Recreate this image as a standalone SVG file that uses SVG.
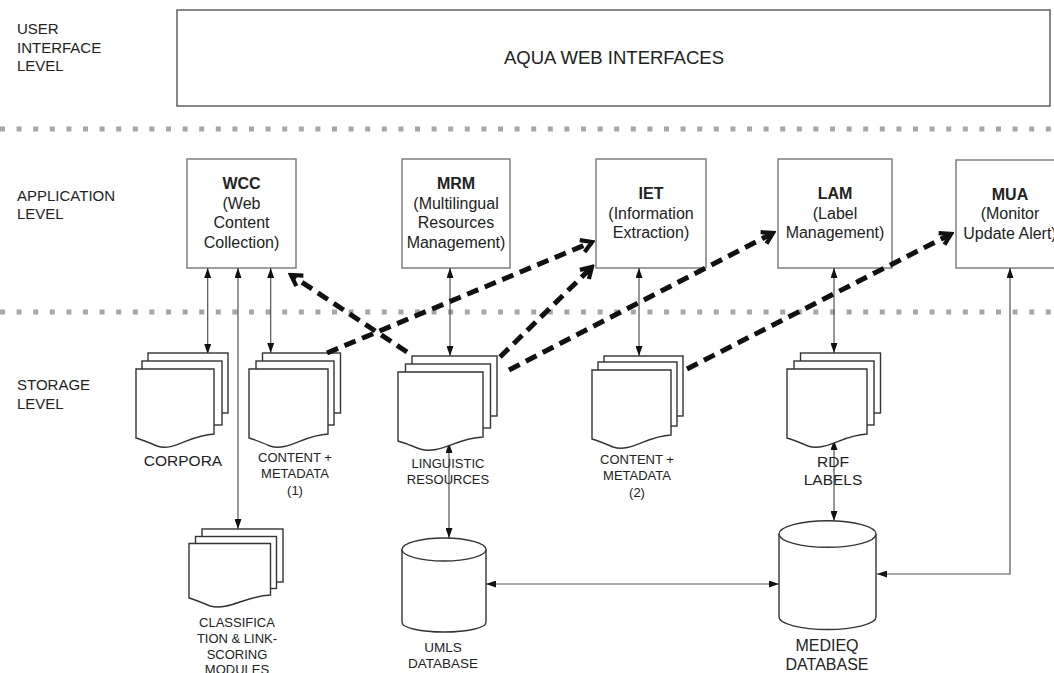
<svg xmlns="http://www.w3.org/2000/svg" width="1054" height="673" viewBox="0 0 1054 673">
<style>
text{font-family:"Liberation Sans",Arial,sans-serif;fill:#222;}
.lvl{font-size:15px;}
.nt{font-size:16px;text-anchor:middle;}
.b{font-weight:bold;}
.sm{font-size:13px;text-anchor:middle;}
.md{font-size:15.5px;text-anchor:middle;}
.box{fill:#fff;stroke:#777;stroke-width:1.4;}
.pg{fill:#fff;stroke:#333;stroke-width:1.4;}
.sep{stroke:#a6a6a6;stroke-width:5;stroke-dasharray:5 11.6;fill:none;}
.thin{stroke:#555;stroke-width:1.2;fill:none;}
.dash{stroke:#111;stroke-width:5;stroke-dasharray:12 7;fill:none;}
</style>
<defs>
<marker id="tri" viewBox="0 0 10 7" refX="10" refY="3.5" markerWidth="10" markerHeight="7" markerUnits="userSpaceOnUse" orient="auto-start-reverse">
<path d="M0,0 L10,3.5 L0,7 Z" fill="#111"/>
</marker>
<marker id="chev" viewBox="0 0 16 16" refX="13" refY="8" markerWidth="17" markerHeight="17" markerUnits="userSpaceOnUse" orient="auto">
<path d="M3,2 L13,8 L3,14" fill="none" stroke="#111" stroke-width="4" stroke-linejoin="miter"/>
</marker>
</defs>
<rect width="1054" height="673" fill="#fff"/>

<g id="levels">
<text class="lvl" x="17" y="34">USER</text>
<text class="lvl" x="17" y="52.5">INTERFACE</text>
<text class="lvl" x="17" y="71">LEVEL</text>
<text class="lvl" x="17" y="201">APPLICATION</text>
<text class="lvl" x="17" y="219">LEVEL</text>
<text class="lvl" x="17" y="390">STORAGE</text>
<text class="lvl" x="17" y="409">LEVEL</text>
</g>

<g id="separators">
<line class="sep" x1="0" y1="129" x2="1054" y2="129"/>
<line class="sep" x1="0" y1="312" x2="1054" y2="312"/>
</g>

<g id="aqua">
<rect x="177" y="10" width="873" height="96" fill="#fff" stroke="#555" stroke-width="1.4"/>
<text x="614" y="64" style="font-size:18.5px" text-anchor="middle">AQUA WEB INTERFACES</text>
</g>

<g id="wcc">
<rect class="box" x="187" y="159" width="109" height="109"/>
<text class="nt b" x="241.5" y="189">WCC</text>
<text class="nt" x="241.5" y="208.5">(Web</text>
<text class="nt" x="241.5" y="228">Content</text>
<text class="nt" x="241.5" y="247.5">Collection)</text>
</g>
<g id="mrm">
<rect class="box" x="402" y="159" width="108" height="109"/>
<text class="nt b" x="456" y="189">MRM</text>
<text class="nt" x="456" y="208.5">(Multilingual</text>
<text class="nt" x="456" y="228">Resources</text>
<text class="nt" x="456" y="247.5">Management)</text>
</g>
<g id="iet">
<rect class="box" x="596" y="159" width="110" height="109"/>
<text class="nt b" x="651" y="199">IET</text>
<text class="nt" x="651" y="218.5">(Information</text>
<text class="nt" x="651" y="238">Extraction)</text>
</g>
<g id="lam">
<rect class="box" x="778" y="159" width="114" height="109"/>
<text class="nt b" x="835" y="199">LAM</text>
<text class="nt" x="835" y="218.5">(Label</text>
<text class="nt" x="835" y="238">Management)</text>
</g>
<g id="mua">
<rect class="box" x="956" y="160" width="112" height="108"/>
<text class="nt b" x="1010" y="200">MUA</text>
<text class="nt" x="1010" y="219">(Monitor</text>
<text class="nt" x="1010" y="238.5">Update Alert)</text>
</g>

<g id="connectors">
<line class="thin" x1="207.7" y1="268" x2="207.7" y2="354" marker-start="url(#tri)" marker-end="url(#tri)"/>
<line class="thin" x1="238" y1="268" x2="238" y2="529" marker-start="url(#tri)" marker-end="url(#tri)"/>
<line class="thin" x1="270.7" y1="268" x2="270.7" y2="353" marker-start="url(#tri)" marker-end="url(#tri)"/>
<line class="thin" x1="450" y1="268" x2="450" y2="356" marker-start="url(#tri)" marker-end="url(#tri)"/>
<line class="thin" x1="639" y1="268" x2="639" y2="356" marker-start="url(#tri)" marker-end="url(#tri)"/>
<line class="thin" x1="834" y1="268" x2="834" y2="353" marker-start="url(#tri)" marker-end="url(#tri)"/>
<polyline class="thin" points="1010,268 1010,574 877,574" marker-start="url(#tri)" marker-end="url(#tri)"/>
<line class="thin" x1="449" y1="443" x2="449" y2="538" marker-start="url(#tri)" marker-end="url(#tri)"/>
<line class="thin" x1="834" y1="440" x2="834" y2="521" marker-start="url(#tri)" marker-end="url(#tri)"/>
<line class="thin" x1="486" y1="584" x2="779" y2="584" marker-start="url(#tri)" marker-end="url(#tri)"/>
</g>

<g id="corpora">
<rect class="pg" x="148" y="353" width="80" height="60"/>
<rect class="pg" x="142" y="361" width="80" height="64"/>
<path class="pg" d="M136,369 H214 V434 C189,435 174,452 157,446 C150,443 143,440 136,438 Z"/>
<text class="md" x="183" y="465.5">CORPORA</text>
</g>

<g id="content1">
<rect class="pg" x="262.5" y="353" width="78" height="60"/>
<rect class="pg" x="256" y="361" width="78" height="64"/>
<path class="pg" d="M249,369 H328 V434 C303,435 288,452 270,446 C263,443 256,440 249,438 Z"/>
<text class="sm" x="295" y="461.5">CONTENT +</text>
<text class="sm" x="295" y="478">METADATA</text>
<text class="sm" x="295" y="494.5">(1)</text>
</g>

<g id="linguistic">
<rect class="pg" x="412" y="356" width="85" height="60"/>
<rect class="pg" x="405.5" y="364" width="85" height="64"/>
<path class="pg" d="M398,372 H483 V437 C456,438 440,455 420,449 C412,446 405,443 398,441 Z"/>
<text class="sm" x="448" y="467.5">LINGUISTIC</text>
<text class="sm" x="448" y="484">RESOURCES</text>
</g>

<g id="content2">
<rect class="pg" x="604" y="356" width="79" height="60"/>
<rect class="pg" x="598" y="362" width="79" height="64"/>
<path class="pg" d="M592,370 H671 V435 C646,436 631,453 613,447 C606,444 599,441 592,439 Z"/>
<text class="sm" x="637" y="464">CONTENT +</text>
<text class="sm" x="637" y="480">METADATA</text>
<text class="sm" x="637" y="496.5">(2)</text>
</g>

<g id="rdf">
<rect class="pg" x="800.5" y="353" width="80" height="60"/>
<rect class="pg" x="794" y="361" width="80" height="64"/>
<path class="pg" d="M787,369 H867 V434 C842,435 826,452 808,446 C801,443 794,440 787,438 Z"/>
<text class="md" x="833" y="466.5">RDF</text>
<text class="md" x="833" y="485">LABELS</text>
</g>

<g id="classification">
<rect class="pg" x="202" y="529" width="81" height="53"/>
<rect class="pg" x="195.5" y="536.5" width="81" height="52"/>
<path class="pg" d="M189,543.5 H270.5 V595 C245,596 229,611 210,606 C203,603 196,600 189,598 Z"/>
<text class="sm" x="237" y="626.5">CLASSIFICA</text>
<text class="sm" x="237" y="642.5">TION &amp; LINK-</text>
<text class="sm" x="237" y="658.5">SCORING</text>
<text class="sm" x="237" y="674">MODULES</text>
</g>

<g id="umls">
<path class="pg" d="M402,549.5 A42,11.5 0 0 1 486,549.5 V622.5 A42,9.5 0 0 1 402,622.5 Z"/>
<path class="pg" d="M402,549.5 A42,11.5 0 0 0 486,549.5" fill="none"/>
<text class="sm" x="443" y="651.5" style="font-size:13.5px">UMLS</text>
<text class="sm" x="443" y="667.5" style="font-size:13.5px">DATABASE</text>
</g>

<g id="medieq">
<path class="pg" d="M779,534 A48.5,13.3 0 0 1 876,534 V617 A48.5,12.5 0 0 1 779,617 Z"/>
<path class="pg" d="M779,534 A48.5,13.3 0 0 0 876,534" fill="none"/>
<text class="nt" x="827" y="651">MEDIEQ</text>
<text class="nt" x="827" y="670">DATABASE</text>
</g>

<g id="dashed-connectors">
<line class="dash" x1="407" y1="352" x2="291" y2="275" marker-end="url(#chev)"/>
<line class="dash" x1="327" y1="353" x2="592" y2="242" marker-end="url(#chev)"/>
<line class="dash" x1="500" y1="357" x2="592" y2="267" marker-end="url(#chev)"/>
<line class="dash" x1="509" y1="370" x2="773" y2="233" marker-end="url(#chev)"/>
<line class="dash" x1="687" y1="369" x2="951" y2="234" marker-end="url(#chev)"/>
</g>
</svg>
